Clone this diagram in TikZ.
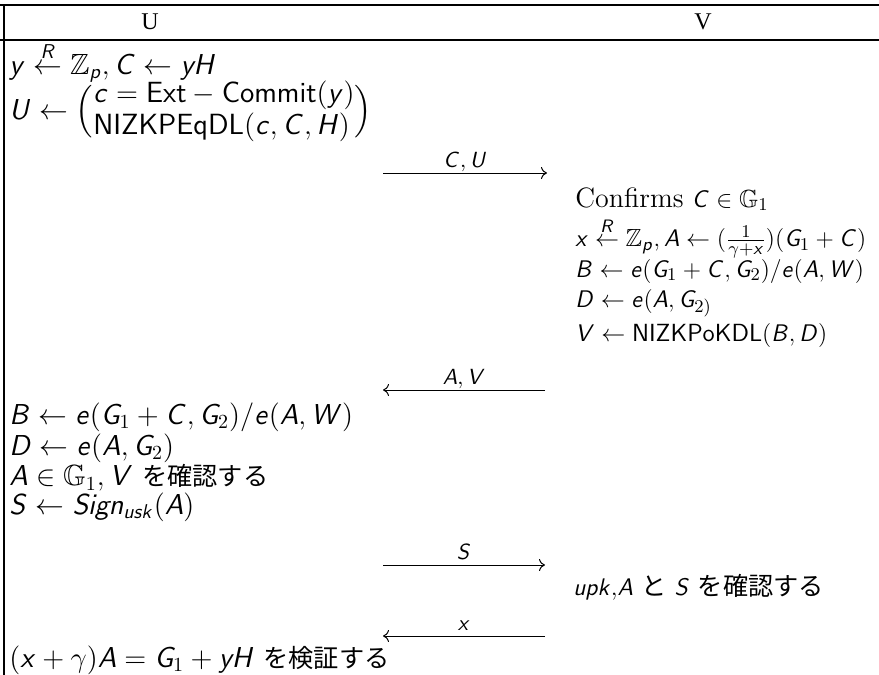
\documentclass[tikz,border=0pt]{standalone}
\usepackage{fontspec}
\usepackage{amssymb}
\newfontfamily\jpfont{Noto Sans CJK JP}
\newfontfamily\hdrfont{Liberation Serif}
\usetikzlibrary{arrows.meta}

% sans-serif math: slanted sans letters, upright sans digits and parentheses
\DeclareSymbolFont{sfit}{OT1}{cmss}{m}{sl}
\DeclareSymbolFont{sfup}{OT1}{cmss}{m}{n}
\makeatletter
\count@=`A
\loop
  \mathcode\count@=\numexpr "7000+\symsfit*"100+\count@\relax
  \ifnum\count@<`Z \advance\count@ by 1 \repeat
\count@=`a
\loop
  \mathcode\count@=\numexpr "7000+\symsfit*"100+\count@\relax
  \ifnum\count@<`z \advance\count@ by 1 \repeat
\count@=`0
\loop
  \mathcode\count@=\numexpr "7000+\symsfup*"100+\count@\relax
  \ifnum\count@<`9 \advance\count@ by 1 \repeat
\mathcode`(=\numexpr "4000+\symsfup*"100+"28\relax
\mathcode`)=\numexpr "5000+\symsfup*"100+"29\relax
\makeatother

% Japanese words
\newcommand{\ja}[1]{{\jpfont\fontsize{12.6}{14}\selectfont #1}}

\tikzset{
  px/.style={x=0.5pt,y=-0.5pt},
  lefttext/.style={font=\fontsize{14.6}{16}\selectfont, inner sep=0pt, anchor=west},
  righttext/.style={font=\fontsize{12.4}{14}\selectfont, inner sep=0pt, anchor=west},
  header/.style={font=\hdrfont\fontsize{12}{14}\selectfont, inner sep=0pt},
  rule/.style={line width=0.6pt},
  msg/.style={line width=0.5pt, -{To[length=3pt,width=6pt]}},
  msglabel/.style={font=\fontsize{11.4}{14}\selectfont, inner sep=0pt, anchor=base, yshift=3pt}
}

\begin{document}
\begin{tikzpicture}[px]
\useasboundingbox (0,0) rectangle (879,675);

% table frame
\coordinate (tl) at (0,5);
\coordinate (tr) at (879,5);
\coordinate (hl) at (0,40);
\coordinate (hr) at (879,40);
\coordinate (vt) at (4,5);
\coordinate (vb) at (4,675);
\draw[rule] (tl) -- (tr);
\draw[rule] (hl) -- (hr);
\draw[rule] (vt) -- (vb);

% column headers
\node[header] (hU) at (150,22) {U};
\node[header] (hV) at (703,22) {V};

% user side, first step
\node[lefttext] (u1) at (9,62) {$y \stackrel{R}{\leftarrow} \mathbb{Z}_p, C \leftarrow yH$};
\node[lefttext] (u2) at (9,112) {\delimiterfactor=800 \delimitershortfall=8pt
  $U \leftarrow \left(\begin{array}{@{}l@{}}
  c = \mathsf{Ext} - \mathsf{Commit}(y)\\
  \mathsf{NIZKPEqDL}(c, C, H)
\end{array}\right)$};

% message C, U
\coordinate (m1a) at (383,173);
\coordinate (m1b) at (547,173);
\draw[msg] (m1a) -- node[msglabel] (m1l) {$C, U$} (m1b);

% verifier side
\node[righttext] (v1) at (575,199) {{\fontsize{14}{16}\selectfont Confirms} $C \in \mathbb{G}_1$};
\node[righttext] (v2) at (575,238) {$x \stackrel{R}{\leftarrow} \mathbb{Z}_p, A \leftarrow (\frac{1}{\gamma+x})(G_1 + C)$};
\node[righttext] (v3) at (575,271) {$B \leftarrow e(G_1 + C, G_2)/e(A, W)$};
\node[righttext] (v4) at (575,303) {$D \leftarrow e(A, G_{2)}$};
\node[righttext] (v5) at (575,335) {$V \leftarrow \mathsf{NIZKPoKDL}(B, D)$};

% message A, V
\coordinate (m2a) at (545,390);
\coordinate (m2b) at (383,390);
\draw[msg] (m2a) -- node[msglabel] (m2l) {$A, V$} (m2b);

% user side, second step
\node[lefttext] (u3) at (9,417) {$B \leftarrow e(G_1 + C, G_2)/e(A, W)$};
\node[lefttext] (u4) at (9,448) {$D \leftarrow e(A, G_2)$};
\node[lefttext] (u5) at (9,478) {$A \in \mathbb{G}_1, V$ \ja{を確認する}};
\node[lefttext] (u6) at (9,507) {$S \leftarrow Sign_{usk}(A)$};

% message S
\coordinate (m3a) at (383,565);
\coordinate (m3b) at (545,565);
\draw[msg] (m3a) -- node[msglabel] (m3l) {$S$} (m3b);

\node[righttext] (v6) at (573,587) {$upk$,$A$ \ja{と} $S$ \ja{を確認する}};

% message x
\coordinate (m4a) at (545,636);
\coordinate (m4b) at (383,636);
\draw[msg] (m4a) -- node[msglabel] (m4l) {$x$} (m4b);

\node[lefttext] (u7) at (9,660) {$(x+\gamma)A = G_1 + yH$ \ja{を検証する}};
\end{tikzpicture}
\end{document}
